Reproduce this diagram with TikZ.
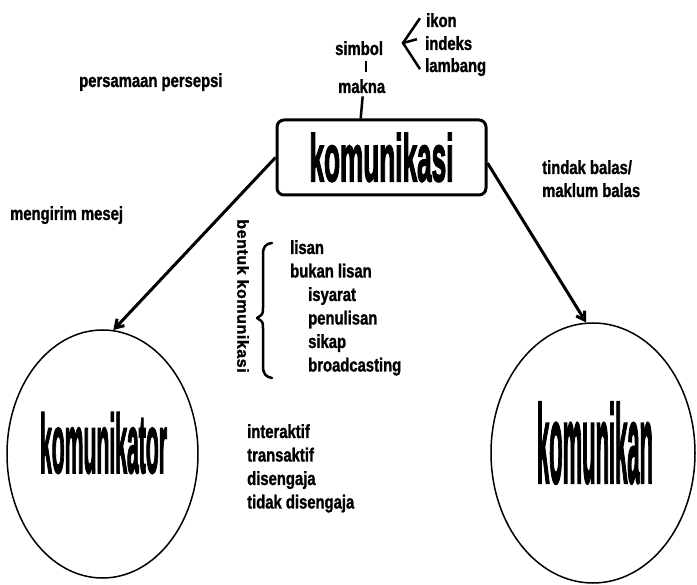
\documentclass[tikz,border=0pt]{standalone}
\usepackage{fontspec}
\usepackage{graphicx}
\usetikzlibrary{shapes.geometric,arrows.meta,calc}
\newfontfamily\cf[FakeStretch=0.78,FakeBold=1.2]{Liberation Sans}
\newfontfamily\bigf[FakeBold=3]{Liberation Sans}
\newfontfamily\rotf[FakeBold=1.5,LetterSpace=3.5]{Liberation Sans}
\begin{document}
\begin{tikzpicture}[x=1pt,y=-1pt,
  txt/.style={anchor=base west,inner sep=0pt,font=\cf\bfseries\fontsize{19}{23}\selectfont},
  bigtxt/.style={anchor=center,inner sep=0pt},
  circ/.style={draw,ellipse,line width=1.5pt,inner sep=0pt},
  mainbox/.style={draw,rounded corners=7pt,line width=3pt,minimum width=209pt,minimum height=75pt,inner sep=0pt},
  flow/.style={line width=3pt,-{Straight Barb[length=8pt,width=10pt]}},
  thin/.style={line width=2.5pt}]
\useasboundingbox (0,0) rectangle (697,585);
\fill[white] (0,0) rectangle (697,585);

% top labels
\node[txt] (ikon) at (426,27) {ikon};
\node[txt] (indeks) at (425,50) {indeks};
\node[txt] (lambang) at (425,72) {lambang};
\node[txt] (simbol) at (335,55) {simbol};
\node[txt] (makna) at (338,93) {makna};
\coordinate (v) at (403,43);
\draw[thin] ($(ikon.west)+(-6,-2)$) -- (v) -- ($(lambang.west)+(-5,2)$);
\draw[thin] (v) -- ($(indeks.west)+(-8,-4)$);
\draw[thin] (366,61) -- (366,72);

% main box
\node[mainbox] (box) at (381.5,157.5) {\resizebox{144pt}{48pt}{\bigf\bfseries komunikasi}};
\draw[thin] ($(makna.south)+(1,3)$) -- ($(makna.south |- box.north)+(-1,0)$);

% circles
\node[circ,minimum width=191pt,minimum height=248pt] (kmtor) at (102.5,454) {};
\node[bigtxt] (kmtorlbl) at (103.5,443) {\resizebox{127pt}{60pt}{\bigf\bfseries komunikator}};
\node[circ,minimum width=204pt,minimum height=260pt] (kman) at (593,453) {};
\node[bigtxt] (kmanlbl) at (595,443) {\resizebox{116pt}{80pt}{\bigf\bfseries komunikan}};

% arrows
\draw[flow] (box.west) -- (kmtor.85);
\draw[flow] (box.-3) -- (kman.93);

% side labels
\node[txt] (persamaan) at (79,87) {persamaan persepsi};
\node[txt] (mengirim) at (10,220) {mengirim mesej};
\node[txt] (tindak) at (542,174) {tindak balas/};
\node[txt] (maklum) at (542,197) {maklum balas};

% bentuk komunikasi
\node[inner sep=0pt,rotate=-90,font=\rotf\bfseries\fontsize{16}{20}\selectfont] (bentuk) at (243,296) {bentuk komunikasi};
\draw[thin,line cap=round,line join=round] (272,243) .. controls (265,244) and (263,247) .. (263,255) -- (263,308) .. controls (263,314) .. (257,318) .. controls (263,322) .. (263,328) -- (263,366) .. controls (263,374) and (266,377) .. (272,378);

\node[txt] (lisan) at (290,254) {lisan};
\node[txt] (bukan) at (290,277.5) {bukan lisan};
\node[txt] (isyarat) at (308,301) {isyarat};
\node[txt] (penulisan) at (308,324.5) {penulisan};
\node[txt] (sikap) at (308,348) {sikap};
\node[txt] (broad) at (308,371.5) {broadcasting};

\node[txt] (inter) at (247,438) {interaktif};
\node[txt] (trans) at (247,461.5) {transaktif};
\node[txt] (dis) at (247,485) {disengaja};
\node[txt] (tdis) at (247,508.5) {tidak disengaja};
\end{tikzpicture}
\end{document}
